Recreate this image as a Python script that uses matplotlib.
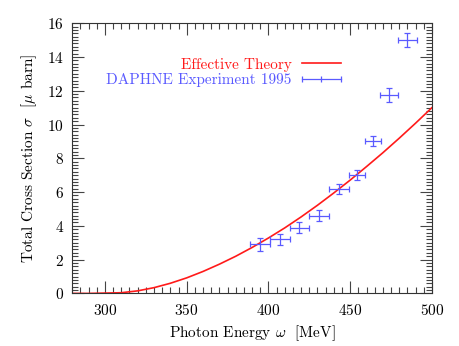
import matplotlib
matplotlib.use("Agg")
import matplotlib.pyplot as plt
from matplotlib.lines import Line2D
from matplotlib.ticker import MultipleLocator

plt.rcParams["font.family"] = "serif"
plt.rcParams["font.serif"] = ["cmr10", "DejaVu Serif"]
plt.rcParams["mathtext.fontset"] = "cm"
plt.rcParams["axes.formatter.use_mathtext"] = True
plt.rcParams["font.size"] = 11

# effective theory curve
theory_w = [280, 290, 300, 310, 320, 330, 340, 350, 360, 370, 380, 390,
            400, 410, 420, 430, 440, 450, 460, 470, 480, 490, 500]
theory_sigma = [0.0, 0.0, 0.02, 0.04, 0.15, 0.34, 0.60, 0.92, 1.30, 1.73,
                2.20, 2.72, 3.28, 3.88, 4.53, 5.22, 5.95, 6.71, 7.51, 8.33,
                9.19, 10.08, 11.0]

# DAPHNE 1995 data points
daphne_w = [395, 407, 419, 431, 443, 454, 464, 474, 485]
daphne_sigma = [2.9, 3.2, 3.9, 4.6, 6.2, 7.0, 9.0, 11.75, 15.0]
daphne_werr = [6, 6, 6, 6, 6, 5, 5, 5.5, 6]
daphne_serr = [0.4, 0.33, 0.3, 0.33, 0.3, 0.3, 0.3, 0.42, 0.4]

red = "#ff1a1a"
blue = "#5a5aff"

fig = plt.figure(figsize=(4.6, 3.46), dpi=100)
ax = fig.add_axes([0.157, 0.152, 0.782, 0.781])

ax.plot(theory_w, theory_sigma, color=red, linewidth=1.2)
ax.errorbar(daphne_w, daphne_sigma, xerr=daphne_werr, yerr=daphne_serr,
            fmt="none", ecolor=blue, elinewidth=0.9, capsize=2.2,
            capthick=0.9)

ax.set_xlim(280, 500)
ax.set_ylim(0, 16)
ax.xaxis.set_major_locator(MultipleLocator(50))
ax.xaxis.set_minor_locator(MultipleLocator(5))
ax.yaxis.set_major_locator(MultipleLocator(2))
ax.yaxis.set_minor_locator(MultipleLocator(0.2))
ax.tick_params(which="both", direction="in", top=True, right=True,
               color="#444444", width=0.8)
ax.tick_params(which="major", length=8.5)
ax.tick_params(which="minor", length=4.3)
ax.tick_params(axis="x", which="major", pad=7)
ax.tick_params(axis="y", which="major", pad=6)
for s in ax.spines.values():
    s.set_color("#333333")
    s.set_linewidth(0.8)

ax.set_xlabel(r"Photon Energy $\omega$  [MeV]", labelpad=4)
ax.set_ylabel(r"Total Cross Section $\sigma$  [$\mu$ barn]", labelpad=6)

# gnuplot style key: text first, sample on the right
handles = [
    Line2D([], [], color=red, linewidth=1.2),
    Line2D([], [], color=blue, linewidth=0.9, marker="|", markersize=5,
           markeredgewidth=0.9),
]
labels = ["Effective Theory", "DAPHNE Experiment 1995"]
ax.legend(handles, labels, loc="upper right", bbox_to_anchor=(0.78, 0.9),
          frameon=False, markerfirst=False, labelcolor="linecolor",
          handlelength=3.15, handletextpad=0.35, labelspacing=0.1,
          borderpad=0, numpoints=3)

fig.savefig("out.png", dpi=100)
